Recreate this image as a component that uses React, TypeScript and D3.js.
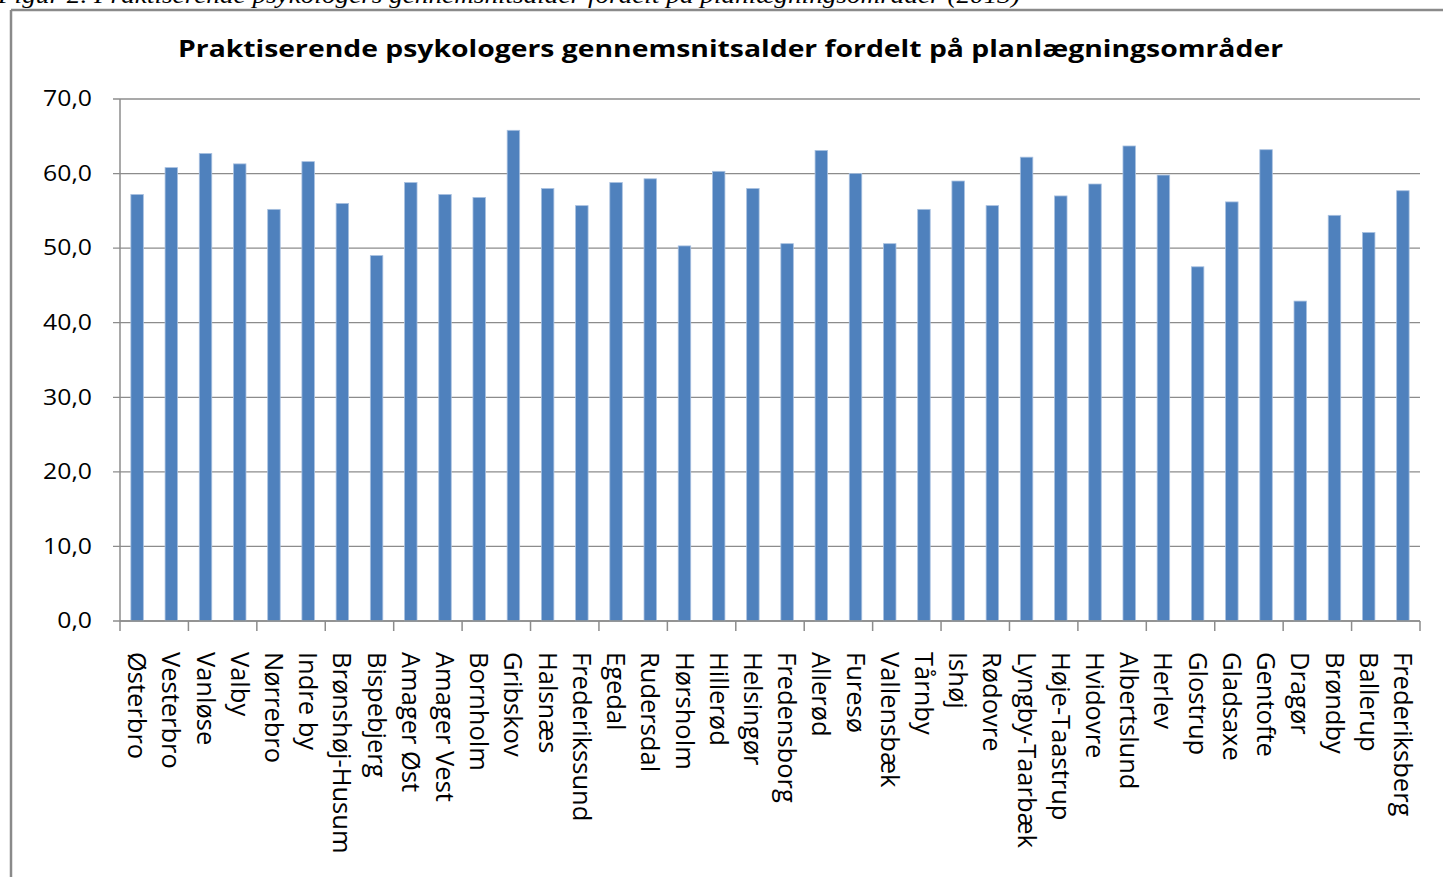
import React from "react";
import * as d3 from "d3";

const categories = [
  "Østerbro", "Vesterbro", "Vanløse", "Valby", "Nørrebro", "Indre by", "Brønshøj-Husum", "Bispebjerg",
  "Amager Øst", "Amager Vest", "Bornholm", "Gribskov", "Halsnæs", "Frederikssund", "Egedal", "Rudersdal",
  "Hørsholm", "Hillerød", "Helsingør", "Fredensborg", "Allerød", "Furesø", "Vallensbæk", "Tårnby",
  "Ishøj", "Rødovre", "Lyngby-Taarbæk", "Høje-Taastrup", "Hvidovre", "Albertslund", "Herlev", "Glostrup",
  "Gladsaxe", "Gentofte", "Dragør", "Brøndby", "Ballerup", "Frederiksberg",
];

const values = [
  57.2, 60.8, 62.7, 61.3, 55.2, 61.6, 56.0, 49.0,
  58.8, 57.2, 56.8, 65.8, 58.0, 55.7, 58.8, 59.3,
  50.3, 60.3, 58.0, 50.6, 63.1, 60.0, 50.6, 55.2,
  59.0, 55.7, 62.2, 57.0, 58.6, 63.7, 59.8, 47.5,
  56.2, 63.2, 42.9, 54.4, 52.1, 57.7,
];

const yTicks = [0, 10, 20, 30, 40, 50, 60, 70];

const title = "Praktiserende psykologers gennemsnitsalder fordelt på planlægningsområder";
const caption = "Figur 2. Praktiserende psykologers gennemsnitsalder fordelt på planlægningsområder (2013)";

const W = 1443;
const H = 877;
const left = 120;
const right = 1420;
const top = 99;
const bottom = 621;

export default function App() {
  const pad = 0.635;
  const x = d3
    .scaleBand<string>()
    .domain(categories)
    .range([left, right])
    .paddingInner(pad)
    .paddingOuter(pad / 2);
  const y = d3.scaleLinear().domain([0, 70]).range([bottom, top]);
  const step = (right - left) / categories.length;
  const tickIdx = d3.range(0, categories.length + 1, 2);
  const fmt = (v: number) => v.toFixed(1).replace(".", ",");
  const font = "'Open Sans', sans-serif";

  return (
    <svg
      width={W}
      height={H}
      style={{ position: "fixed", left: 0, top: 0, background: "#fff" }}
    >
      <rect x={0} y={0} width={W} height={H} fill="#fff" />
      <text
        x={-2}
        y={3}
        fontFamily="'Liberation Serif', 'Times New Roman', serif"
        fontStyle="italic"
        fontSize={24}
        textLength={1022}
        lengthAdjust="spacingAndGlyphs"
        fill="#000"
      >
        {caption}
      </text>
      {/* chart frame */}
      <line x1={11} y1={10} x2={W} y2={10} stroke="#8a8a8a" strokeWidth={2.5} />
      <line x1={11} y1={10} x2={11} y2={H} stroke="#8a8a8a" strokeWidth={2.5} />

      <text
        x={(178 + 1283) / 2}
        y={57}
        textAnchor="middle"
        fontFamily={font}
        fontWeight={700}
        fontSize={24}
        textLength={1105}
        lengthAdjust="spacingAndGlyphs"
        fill="#000"
      >
        {title}
      </text>

      {/* gridlines */}
      {yTicks.map((t) => (
        <g key={t}>
          <line x1={113} x2={right} y1={y(t)} y2={y(t)} stroke="#8c8c8c" strokeWidth={1.3} />
          <text
            x={92}
            y={y(t)}
            dy="0.35em"
            textAnchor="end"
            fontFamily={font}
            fontSize={21}
            transform={`translate(92,0) scale(1.18,1) translate(-92,0)`}
            fill="#000"
          >
            {fmt(t)}
          </text>
        </g>
      ))}

      {/* bars */}
      {categories.map((c, i) => (
        <rect
          key={c}
          x={x(c)}
          y={y(values[i])}
          width={x.bandwidth()}
          height={y(0) - y(values[i])}
          fill="#4f81bd"
          stroke="#a9c1e0"
          strokeWidth={0.8}
        />
      ))}

      {/* axes */}
      <line x1={left} x2={left} y1={top} y2={bottom} stroke="#8c8c8c" strokeWidth={1.5} />
      <line x1={left} x2={right} y1={bottom} y2={bottom} stroke="#8c8c8c" strokeWidth={1.5} />
      {tickIdx.map((k) => (
        <line
          key={k}
          x1={left + k * step}
          x2={left + k * step}
          y1={bottom}
          y2={bottom + 10}
          stroke="#8c8c8c"
          strokeWidth={1.5}
        />
      ))}

      {/* category labels */}
      {categories.map((c) => {
        const cx = (x(c) as number) + x.bandwidth() / 2;
        return (
          <text
            key={c}
            transform={`translate(${cx},652) rotate(90)`}
            dy="0.35em"
            fontFamily={font}
            fontSize={25.5}
            fill="#000"
          >
            {c}
          </text>
        );
      })}
    </svg>
  );
}
